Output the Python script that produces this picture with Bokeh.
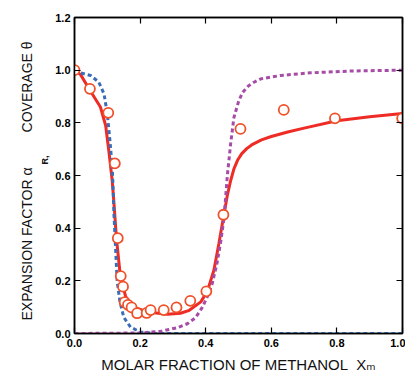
from bokeh.plotting import figure
from bokeh.models import Range1d, FixedTicker, PrintfTickFormatter, LinearAxis, Title
from bokeh.embed import file_html
from bokeh.resources import INLINE

# measured data points (open circles)
xm_points = [0.0, 0.047, 0.103, 0.123, 0.132, 0.141, 0.148, 0.153, 0.163, 0.174,
             0.191, 0.220, 0.232, 0.272, 0.311, 0.353, 0.402, 0.454, 0.506, 0.638,
             0.794, 0.999]
alpha_points = [1.0, 0.929, 0.838, 0.646, 0.362, 0.218, 0.178, 0.119, 0.109, 0.099,
                0.077, 0.078, 0.089, 0.089, 0.099, 0.124, 0.160, 0.451, 0.777, 0.849,
                0.817, 0.817]

# fitted expansion factor (solid red)
xm_fit = [0.0, 0.018, 0.049, 0.079, 0.095, 0.105, 0.115, 0.120, 0.128, 0.140, 0.156,
          0.181, 0.222, 0.283, 0.323, 0.350, 0.385, 0.405, 0.425, 0.440, 0.456, 0.466,
          0.476, 0.486, 0.498, 0.510, 0.525, 0.540, 0.570, 0.600, 0.650, 0.700, 0.800,
          0.900, 1.0]
alpha_fit = [1.0, 0.984, 0.920, 0.860, 0.790, 0.690, 0.580, 0.500, 0.360, 0.215, 0.140,
             0.100, 0.082, 0.073, 0.077, 0.088, 0.120, 0.160, 0.240, 0.340, 0.455, 0.525,
             0.580, 0.625, 0.660, 0.683, 0.702, 0.716, 0.735, 0.748, 0.765, 0.780, 0.808,
             0.823, 0.835]

# coverage curve 1 (blue dashed)
xm_cov1 = [0.0, 0.018, 0.049, 0.074, 0.090, 0.100, 0.108, 0.115, 0.118, 0.120, 0.125,
           0.130, 0.138, 0.150, 0.171, 0.200, 0.250, 1.0]
theta_cov1 = [1.0, 0.99, 0.98, 0.955, 0.91, 0.834, 0.733, 0.632, 0.54, 0.46, 0.33,
              0.20, 0.125, 0.062, 0.024, 0.006, 0.0, 0.0]

# coverage curve 2 (magenta dashed)
xm_cov2 = [0.0, 0.200, 0.262, 0.313, 0.344, 0.369, 0.390, 0.405, 0.420, 0.435, 0.446,
           0.456, 0.466, 0.476, 0.486, 0.500, 0.512, 0.530, 0.547, 0.568, 0.629, 0.720,
           0.850, 1.0]
theta_cov2 = [0.0, 0.002, 0.008, 0.022, 0.037, 0.060, 0.100, 0.140, 0.190, 0.270, 0.350,
              0.440, 0.600, 0.720, 0.820, 0.880, 0.915, 0.940, 0.954, 0.967, 0.980, 0.990,
              0.997, 1.0]

x_ticks = [0.0, 0.2, 0.4, 0.6, 0.8, 1.0]
y_ticks = [0.0, 0.2, 0.4, 0.6, 0.8, 1.0, 1.2]

x_title = "MOLAR FRACTION OF METHANOL\u00a0\u00a0Xₘ"
y_title_main = "EXPANSION FACTOR α" + "\u00a0" * 9 + "COVERAGE θ"
y_title_sub = "R,"

p = figure(width=405, height=377, output_backend="svg", toolbar_location=None,
           x_range=Range1d(0, 1), y_range=Range1d(0, 1.2),
           x_axis_type=None, y_axis_type=None,
           min_border_left=74, min_border_right=3, min_border_top=17, min_border_bottom=44)
p.grid.visible = False
p.background_fill_color = "white"
p.border_fill_color = "white"
p.outline_line_color = "black"
p.outline_line_width = 1.5

font = "Liberation Sans, DejaVu Sans"

def make_axis(ticks, labels):
    ax = LinearAxis(ticker=FixedTicker(ticks=ticks),
                    formatter=PrintfTickFormatter(format="%.1f"))
    ax.axis_line_color = "black"
    ax.axis_line_width = 1.5
    ax.major_tick_in = 6
    ax.major_tick_out = 0
    ax.major_tick_line_color = "black"
    ax.major_tick_line_width = 1.2
    ax.minor_tick_line_color = None
    ax.major_label_text_font = font
    ax.major_label_text_font_style = "bold"
    ax.major_label_text_font_size = "11px"
    ax.major_label_text_color = "black"
    if not labels:
        ax.major_label_text_color = None
        ax.major_label_text_font_size = "1px"
        ax.major_label_standoff = 0
    return ax

bx = make_axis(x_ticks, True)
bx.major_label_standoff = 5
p.add_layout(bx, "below")
ly = make_axis(y_ticks, True)
ly.major_label_standoff = 4
p.add_layout(ly, "left")
p.add_layout(make_axis(x_ticks, False), "above")
p.add_layout(make_axis(y_ticks, False), "right")

# axis titles
p.add_layout(Title(text=x_title, align="center", text_font=font, text_font_size="15px",
                   text_font_style="normal", text_color="#111111", standoff=8), "below")
p.add_layout(Title(text=y_title_sub, align="left", offset=169, text_font=font,
                   text_font_size="9px", text_font_style="bold", text_color="#111111",
                   standoff=6), "left")
p.add_layout(Title(text=y_title_main, align="left", offset=13, text_font=font,
                   text_font_size="14px", text_font_style="normal", text_color="#111111",
                   standoff=0), "left")

p.line(xm_fit, alpha_fit, line_color="#EE2B24", line_width=3)
p.line(xm_cov1, theta_cov1, line_color="#3A6CB8", line_width=3, line_dash="4 3")
p.line(xm_cov2, theta_cov2, line_color="#A64CA6", line_width=3, line_dash="4 3")
p.scatter(xm_points, alpha_points, size=10, marker="circle", fill_color="white",
          line_color="#F0502A", line_width=1.8)

open("out.html", "w").write(file_html(p, INLINE))
